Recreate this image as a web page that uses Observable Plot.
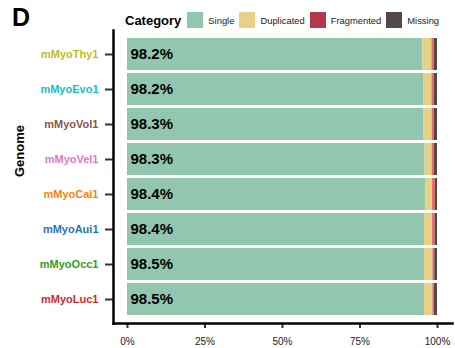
<!DOCTYPE html>
<html>
<head>
<meta charset="utf-8">
<script src="https://cdn.jsdelivr.net/npm/d3@7"></script>
<script src="https://cdn.jsdelivr.net/npm/@observablehq/plot@0.6"></script>
<style>
  body { margin: 0; background: white; font-family: "Liberation Sans", Arial, sans-serif; }
  #wrap { position: relative; width: 455px; height: 348px; }
  #panel { position: absolute; left: 12px; top: 3px; font-size: 25px; font-weight: bold; color: #000; }
  #key { position: absolute; left: 125px; top: 12px; display: flex; align-items: center; }
  #key .title { font-size: 13px; font-weight: bold; margin-right: 6px; color: #000; }
  #key .sw { width: 16px; height: 16px; margin-right: 5px; }
  #key .lab { font-size: 9.4px; color: #222; margin-right: 5px; }
  #chart { position: absolute; left: 0; top: 0; }
</style>
</head>
<body>
<div id="wrap">
  <div id="chart"></div>
  <div id="panel">D</div>
  <div id="key"></div>
</div>
<script>
// BUSCO completeness per genome assembly (percent of orthologs)
const genomes = ["mMyoThy1", "mMyoEvo1", "mMyoVol1", "mMyoVel1", "mMyoCai1", "mMyoAui1", "mMyoOcc1", "mMyoLuc1"];
const genomeColors = ["#bcbd22", "#17becf", "#8c564b", "#e377c2", "#ff7f0e", "#1f77b4", "#2ca02c", "#d62728"];
const categories = ["Single", "Duplicated", "Fragmented", "Missing"];
const single     = [95.3, 95.5, 95.5, 96.0, 96.3, 95.8, 95.8, 95.8];
const duplicated = [2.9, 2.7, 2.8, 2.3, 2.1, 2.6, 2.7, 2.7];
const fragmented = [0.7, 0.7, 0.6, 0.6, 0.9, 0.8, 0.6, 0.5];
const missing    = [1.1, 1.1, 1.1, 1.1, 0.7, 0.8, 0.9, 1.0];
const barColors = ["#93c6ae", "#e6d184", "#ee6a62", "#524849"];
const keyColors = ["#93c6ae", "#e6d184", "#b2384c", "#524849"];
const xTicks = [0, 25, 50, 75, 100];

const series = [single, duplicated, fragmented, missing];
const rows = [];
genomes.forEach((g, i) => {
  categories.forEach((c, j) => rows.push({genome: g, category: c, value: series[j][i]}));
});
// complete = single-copy + duplicated
const complete = genomes.map((g, i) => ({genome: g, value: single[i] + duplicated[i]}));

const labelMarks = genomes.map((g, i) =>
  Plot.text([g], {
    y: d => d, frameAnchor: "left", textAnchor: "end", dx: -15,
    fill: genomeColors[i], fontSize: 11, fontWeight: "bold"
  })
);

const chart = Plot.plot({
  width: 455,
  height: 348,
  marginTop: 30,
  marginBottom: 25,
  marginLeft: 113,
  marginRight: 3,
  style: {fontFamily: "Liberation Sans, Arial, sans-serif", background: "white"},
  x: {domain: [0, 100], insetLeft: 14, insetRight: 15},
  y: {domain: genomes, paddingInner: 0.08, paddingOuter: 0, insetTop: 4, insetBottom: 4},
  color: {domain: categories, range: barColors},
  marks: [
    Plot.barX(rows, {x: "value", y: "genome", fill: "category"}),
    Plot.text(complete, {
      x: 0, y: "genome", text: d => d.value.toFixed(1) + "%",
      textAnchor: "start", dx: 3, fontSize: 15, fontWeight: "bold", fill: "#000"
    }),
    Plot.axisX({
      ticks: xTicks, tickFormat: d => d + "%", tickSize: 5, tickPadding: 9,
      fontSize: 10, label: null, stroke: "#333", strokeWidth: 2, color: "#222"
    }),
    Plot.axisY({tickSize: 8, tickFormat: () => "", label: null, stroke: "#333", strokeWidth: 2}),
    Plot.frame({anchor: "left", stroke: "#000", strokeWidth: 2.5}),
    Plot.frame({anchor: "bottom", stroke: "#000", strokeWidth: 2.5}),
    Plot.text(["Genome"], {
      frameAnchor: "left", dx: -94, rotate: -90, text: d => d,
      fontSize: 13, fontWeight: "bold", fill: "#000"
    }),
    ...labelMarks
  ]
});
document.getElementById("chart").append(chart);

// category key
const key = document.getElementById("key");
const t = document.createElement("span");
t.className = "title";
t.textContent = "Category";
key.append(t);
categories.forEach((c, j) => {
  const sw = document.createElement("span");
  sw.className = "sw";
  sw.style.background = keyColors[j];
  const lab = document.createElement("span");
  lab.className = "lab";
  lab.textContent = c;
  key.append(sw, lab);
});
</script>
</body>
</html>
